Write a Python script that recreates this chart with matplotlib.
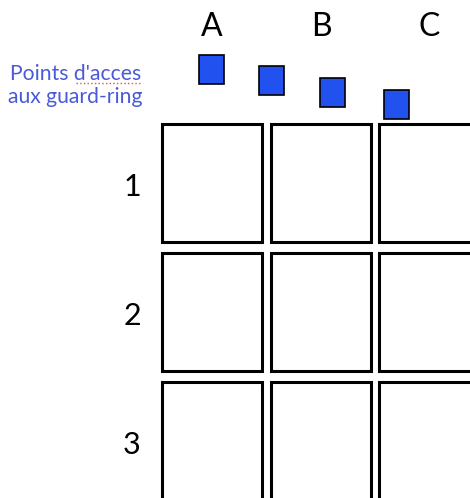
import matplotlib.pyplot as plt
from matplotlib.patches import Rectangle

plt.rcParams['font.family'] = ['Lato', 'DejaVu Sans']

# grille des cellules (en pixels de l'image)
col_labels = ['A', 'B', 'C']
row_labels = ['1', '2', '3']
col_left = [162, 271, 379]
row_top = [124, 253, 382]
cell_w, cell_h = 100, 118

# points d'acces (coin haut-gauche)
pt_x = [199, 259, 320, 384]
pt_y = [55, 66, 78, 90]
pt_w, pt_h = 25, 29

fig = plt.figure(figsize=(4.7, 4.98), dpi=100)
ax = fig.add_axes([0, 0, 1, 1])
ax.set_xlim(0, 470)
ax.set_ylim(498, 0)
ax.axis('off')

for x in col_left:
    for y in row_top:
        ax.add_patch(Rectangle((x, y), cell_w, cell_h, facecolor='white',
                               edgecolor='black', lw=2.2))

for x, y in zip(pt_x, pt_y):
    ax.add_patch(Rectangle((x, y), pt_w, pt_h, facecolor='#2152f0',
                           edgecolor='black', lw=1.2))

for x, lab in zip(col_left, col_labels):
    ax.text(x + cell_w / 2, 36, lab, ha='center', va='baseline', fontsize=23)

for y, lab in zip(row_top, row_labels):
    ax.text(132, y + 72, lab, ha='center', va='baseline', fontsize=22)

bleu = '#4a5ad8'
ax.text(141, 80, "Points d'acces", ha='right', va='baseline', fontsize=15.2, color=bleu)
ax.text(142, 103, "aux guard-ring", ha='right', va='baseline', fontsize=15.2, color=bleu)
# soulignement du correcteur
ax.plot([76, 140], [83, 83], color='#e05050', lw=1, ls=':')

fig.savefig('out.png', dpi=100)
